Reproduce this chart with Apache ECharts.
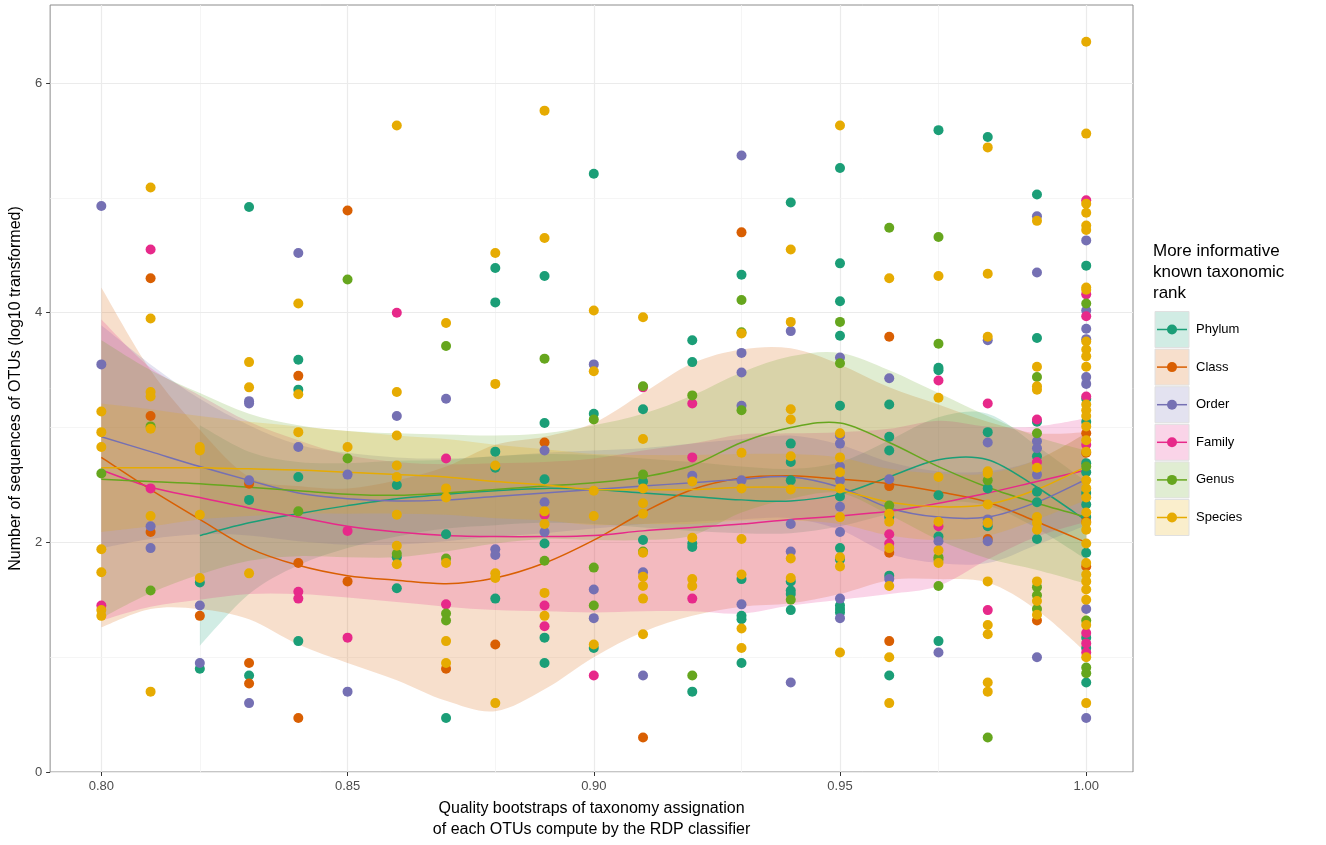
<!DOCTYPE html>
<html>
<head>
<meta charset="utf-8">
<script src="https://cdn.jsdelivr.net/npm/echarts@6/dist/echarts.min.js"></script>
<style>
html, body { margin: 0; padding: 0; background: #fff; }
#chart { width: 1326px; height: 845px; }
</style>
</head>
<body>
<div id="chart"></div>
<script>
// points: [bootstrap quality, log10 number of sequences]
const phylumPts = [
  [0.82,1.65],[0.82,0.90],
  [0.83,4.92],[0.83,2.37],[0.83,0.84],
  [0.84,3.59],[0.84,3.33],[0.84,2.57],[0.84,1.14],
  [0.86,2.50],[0.86,1.87],[0.86,1.60],
  [0.87,2.07],[0.87,0.47],
  [0.88,4.39],[0.88,4.09],[0.88,2.79],[0.88,2.65],[0.88,1.51],
  [0.89,4.32],[0.89,3.04],[0.89,2.55],[0.89,1.99],[0.89,1.17],[0.89,0.95],
  [0.90,5.21],[0.90,3.12],[0.90,1.08],
  [0.91,3.16],[0.91,2.53],[0.91,2.02],
  [0.92,3.76],[0.92,3.57],[0.92,1.99],[0.92,1.96],[0.92,0.70],
  [0.93,4.33],[0.93,1.68],[0.93,1.36],[0.93,1.33],[0.93,0.95],
  [0.94,4.96],[0.94,2.86],[0.94,2.70],[0.94,2.54],[0.94,1.66],[0.94,1.58],[0.94,1.55],[0.94,1.41],
  [0.95,5.26],[0.95,4.43],[0.95,4.10],[0.95,3.80],[0.95,3.19],[0.95,2.40],[0.95,1.95],[0.95,1.85],[0.95,1.45],[0.95,1.42],[0.95,1.39],
  [0.96,3.20],[0.96,2.92],[0.96,2.80],[0.96,2.22],[0.96,1.71],[0.96,0.84],
  [0.97,5.59],[0.97,3.52],[0.97,3.50],[0.97,2.41],[0.97,2.05],[0.97,1.14],
  [0.98,5.53],[0.98,2.96],[0.98,2.47],[0.98,2.14],
  [0.99,5.03],[0.99,3.78],[0.99,3.05],[0.99,2.75],[0.99,2.44],[0.99,2.35],[0.99,2.03],
  [1.00,4.41],[1.00,3.25],[1.00,3.05],[1.00,2.69],[1.00,2.61],[1.00,2.43],[1.00,2.33],[1.00,2.22],[1.00,1.91],[1.00,1.17],[1.00,1.08],[1.00,0.78]
];
const classPts = [
  [0.81,4.30],[0.81,3.10],[0.81,2.09],
  [0.82,1.36],
  [0.83,2.51],[0.83,0.95],[0.83,0.77],
  [0.84,3.45],[0.84,1.82],[0.84,0.47],
  [0.85,4.89],[0.85,1.66],
  [0.87,0.90],[0.88,1.11],[0.89,2.87],[0.91,0.30],[0.93,4.70],
  [0.96,3.79],[0.96,2.49],[0.96,1.91],[0.96,1.14],
  [0.98,2.03],[0.99,1.32],
  [1.00,2.95],[1.00,2.78],[1.00,2.18],[1.00,1.79]
];
const orderPts = [
  [0.80,4.93],[0.80,3.55],
  [0.81,2.14],[0.81,1.95],
  [0.82,1.45],[0.82,0.95],
  [0.83,3.23],[0.83,3.21],[0.83,2.54],[0.83,0.60],
  [0.84,4.52],[0.84,2.83],
  [0.85,2.59],[0.85,0.70],
  [0.86,3.10],[0.87,3.25],
  [0.88,1.94],[0.88,1.89],
  [0.89,2.80],[0.89,2.35],[0.89,2.09],
  [0.90,3.55],[0.90,1.59],[0.90,1.34],
  [0.91,1.74],[0.91,0.84],
  [0.92,2.58],
  [0.93,5.37],[0.93,3.65],[0.93,3.48],[0.93,3.19],[0.93,2.54],[0.93,1.46],
  [0.94,3.84],[0.94,2.16],[0.94,1.92],[0.94,0.78],
  [0.95,3.61],[0.95,2.93],[0.95,2.86],[0.95,2.66],[0.95,2.54],[0.95,2.31],[0.95,2.09],[0.95,1.51],[0.95,1.34],
  [0.96,3.43],[0.96,2.55],[0.96,1.68],
  [0.97,2.01],[0.97,1.04],
  [0.98,3.76],[0.98,2.87],[0.98,2.20],[0.98,2.17],[0.98,2.01],
  [0.99,4.84],[0.99,4.35],[0.99,2.88],[0.99,2.82],[0.99,2.59],[0.99,1.00],
  [1.00,4.63],[1.00,4.02],[1.00,3.86],[1.00,3.77],[1.00,3.44],[1.00,3.38],[1.00,1.42],[1.00,0.47]
];
const familyPts = [
  [0.80,1.45],
  [0.81,4.55],[0.81,2.47],
  [0.84,1.57],[0.84,1.51],
  [0.85,2.10],[0.85,1.17],
  [0.86,4.00],
  [0.87,2.73],[0.87,1.46],
  [0.89,2.24],[0.89,1.45],[0.89,1.27],
  [0.90,0.84],[0.91,3.35],
  [0.92,3.21],[0.92,2.74],[0.92,1.51],
  [0.96,2.07],[0.96,1.99],
  [0.97,3.41],[0.97,2.14],
  [0.98,3.21],[0.98,1.41],
  [0.99,3.07],[0.99,2.70],
  [1.00,4.98],[1.00,4.16],[1.00,3.97],[1.00,3.27],[1.00,2.85],[1.00,1.21],[1.00,1.12],[1.00,1.04]
];
const genusPts = [
  [0.80,2.60],
  [0.81,3.01],[0.81,1.58],
  [0.84,2.27],
  [0.85,4.29],[0.85,2.73],
  [0.86,1.90],
  [0.87,3.71],[0.87,1.86],[0.87,1.38],[0.87,1.32],
  [0.89,3.60],[0.89,1.84],
  [0.90,3.07],[0.90,1.78],[0.90,1.45],
  [0.91,3.36],[0.91,2.59],[0.91,1.92],
  [0.92,3.28],[0.92,0.84],
  [0.93,4.11],[0.93,3.83],[0.93,3.15],
  [0.94,1.50],
  [0.95,3.92],[0.95,3.56],
  [0.96,4.74],[0.96,2.32],
  [0.97,4.66],[0.97,3.73],[0.97,1.87],[0.97,1.85],[0.97,1.62],
  [0.98,2.54],[0.98,0.30],
  [0.99,3.44],[0.99,2.95],[0.99,1.61],[0.99,1.54],[0.99,1.42],
  [1.00,4.08],[1.00,2.66],[1.00,1.32],[1.00,0.91],[1.00,0.86]
];
const speciesPts = [
  [0.80,3.14],[0.80,2.96],[0.80,2.83],[0.80,1.94],[0.80,1.74],[0.80,1.41],[0.80,1.36],
  [0.81,5.09],[0.81,3.95],[0.81,3.31],[0.81,3.27],[0.81,2.99],[0.81,2.23],[0.81,0.70],
  [0.82,2.83],[0.82,2.80],[0.82,2.24],[0.82,1.69],
  [0.83,3.57],[0.83,3.35],[0.83,1.73],
  [0.84,4.08],[0.84,3.29],[0.84,2.96],
  [0.85,2.83],
  [0.86,5.63],[0.86,3.31],[0.86,2.93],[0.86,2.67],[0.86,2.57],[0.86,2.24],[0.86,1.97],[0.86,1.81],
  [0.87,3.91],[0.87,2.47],[0.87,2.39],[0.87,1.82],[0.87,1.14],[0.87,0.95],
  [0.88,4.52],[0.88,3.38],[0.88,2.67],[0.88,1.73],[0.88,1.69],[0.88,0.60],
  [0.89,5.76],[0.89,4.65],[0.89,2.27],[0.89,2.16],[0.89,1.56],[0.89,1.36],
  [0.90,4.02],[0.90,3.49],[0.90,2.45],[0.90,2.23],[0.90,1.11],
  [0.91,3.96],[0.91,2.90],[0.91,2.47],[0.91,2.34],[0.91,2.25],[0.91,1.91],[0.91,1.70],[0.91,1.62],[0.91,1.51],[0.91,1.20],
  [0.92,2.53],[0.92,2.04],[0.92,1.68],[0.92,1.62],
  [0.93,3.82],[0.93,2.78],[0.93,2.47],[0.93,2.03],[0.93,1.72],[0.93,1.25],[0.93,1.08],
  [0.94,4.55],[0.94,3.92],[0.94,3.16],[0.94,3.07],[0.94,2.75],[0.94,2.46],[0.94,1.86],[0.94,1.69],
  [0.95,5.63],[0.95,2.95],[0.95,2.74],[0.95,2.61],[0.95,2.47],[0.95,2.22],[0.95,1.87],[0.95,1.79],[0.95,1.04],
  [0.96,4.30],[0.96,2.25],[0.96,2.18],[0.96,1.95],[0.96,1.62],[0.96,1.00],[0.96,0.60],
  [0.97,4.32],[0.97,3.26],[0.97,2.57],[0.97,2.18],[0.97,1.93],[0.97,1.82],
  [0.98,5.44],[0.98,4.34],[0.98,3.79],[0.98,2.62],[0.98,2.60],[0.98,2.33],[0.98,2.17],[0.98,1.66],[0.98,1.28],[0.98,1.20],[0.98,0.78],[0.98,0.70],
  [0.99,4.80],[0.99,3.53],[0.99,3.36],[0.99,3.33],[0.99,2.65],[0.99,2.22],[0.99,2.17],[0.99,2.11],[0.99,1.66],[0.99,1.49],[0.99,1.37],
  [1.00,6.36],[1.00,5.56],[1.00,4.95],[1.00,4.87],[1.00,4.76],[1.00,4.72],[1.00,4.22],[1.00,4.20],[1.00,3.75],[1.00,3.68],[1.00,3.62],[1.00,3.53],
  [1.00,3.20],[1.00,3.15],[1.00,3.10],[1.00,3.01],[1.00,2.89],[1.00,2.79],[1.00,2.54],[1.00,2.47],[1.00,2.39],[1.00,2.26],[1.00,2.17],[1.00,2.11],
  [1.00,1.99],[1.00,1.82],[1.00,1.72],[1.00,1.66],[1.00,1.59],[1.00,1.50],[1.00,1.28],[1.00,1.00],[1.00,0.60]
];

// loess fits (fit, lower and upper band)
const fitX = [0.80,0.81,0.82,0.83,0.84,0.85,0.86,0.87,0.88,0.89,0.90,0.91,0.92,0.93,0.94,0.95,0.96,0.97,0.98,0.99,1.00];
const phylumX = [0.82,0.83,0.84,0.85,0.86,0.87,0.88,0.89,0.90,0.91,0.92,0.93,0.94,0.95,0.96,0.97,0.98,0.99,1.00];
const phylumFit = [2.06,2.17,2.25,2.32,2.38,2.42,2.45,2.47,2.46,2.43,2.40,2.37,2.36,2.42,2.57,2.72,2.72,2.48,2.19];
const phylumLo  = [1.10,1.55,1.80,1.95,2.05,2.12,2.15,2.17,2.16,2.13,2.10,2.08,2.08,2.14,2.25,2.35,2.32,2.12,1.85];
const phylumHi  = [3.02,2.79,2.70,2.69,2.71,2.72,2.75,2.77,2.76,2.73,2.70,2.66,2.64,2.70,2.89,3.09,3.12,2.84,2.53];
const classFit = [2.74,2.46,2.20,1.95,1.80,1.71,1.67,1.64,1.69,1.82,2.02,2.26,2.46,2.56,2.58,2.55,2.51,2.44,2.35,2.18,2.00];
const classLo  = [1.26,1.42,1.42,1.33,1.11,0.95,0.80,0.62,0.53,0.72,1.00,1.22,1.36,1.44,1.47,1.55,1.67,1.68,1.65,1.41,1.04];
const classHi  = [4.22,3.50,2.98,2.57,2.49,2.47,2.54,2.66,2.85,2.92,3.04,3.30,3.56,3.68,3.69,3.55,3.35,3.20,3.05,2.95,2.96];
const orderFit = [2.92,2.79,2.66,2.54,2.43,2.38,2.36,2.37,2.40,2.43,2.46,2.49,2.52,2.55,2.57,2.48,2.30,2.22,2.22,2.35,2.55];
const orderLo  = [1.95,2.03,2.07,2.06,2.01,1.98,1.98,2.01,2.05,2.08,2.12,2.16,2.18,2.20,2.21,2.11,1.90,1.82,1.82,1.98,2.15];
const orderHi  = [3.89,3.55,3.25,3.02,2.85,2.78,2.74,2.73,2.75,2.78,2.80,2.82,2.86,2.90,2.93,2.85,2.70,2.62,2.62,2.72,2.95];
const familyFit = [2.63,2.48,2.39,2.30,2.22,2.14,2.09,2.06,2.05,2.05,2.06,2.10,2.13,2.16,2.20,2.23,2.27,2.34,2.43,2.53,2.63];
const familyLo  = [1.32,1.44,1.50,1.55,1.55,1.52,1.48,1.44,1.41,1.40,1.39,1.40,1.40,1.38,1.45,1.50,1.55,1.62,1.85,2.05,2.18];
const familyHi  = [3.94,3.52,3.28,3.05,2.89,2.76,2.70,2.68,2.69,2.70,2.73,2.80,2.86,2.94,2.95,2.96,2.99,3.06,3.01,3.01,3.08];
const genusFit = [2.55,2.53,2.51,2.48,2.45,2.42,2.41,2.43,2.46,2.49,2.52,2.57,2.67,2.87,3.00,3.04,2.87,2.66,2.48,2.34,2.22];
const genusLo  = [1.34,1.56,1.72,1.84,1.88,1.87,1.87,1.92,1.99,2.03,2.02,2.02,2.06,2.26,2.38,2.43,2.24,2.02,1.86,1.76,1.64];
const genusHi  = [3.76,3.50,3.30,3.12,3.02,2.97,2.95,2.94,2.93,2.95,3.02,3.12,3.28,3.48,3.62,3.65,3.50,3.30,3.10,2.92,2.80];
const speciesFit = [2.65,2.65,2.65,2.64,2.63,2.61,2.59,2.57,2.53,2.50,2.46,2.46,2.46,2.48,2.48,2.45,2.35,2.31,2.33,2.46,2.66];
const speciesLo  = [2.09,2.14,2.20,2.23,2.25,2.25,2.25,2.24,2.21,2.19,2.15,2.16,2.16,2.19,2.19,2.16,2.06,2.02,2.06,2.20,2.37];
const speciesHi  = [3.21,3.16,3.10,3.05,3.01,2.97,2.93,2.90,2.85,2.81,2.77,2.76,2.76,2.77,2.77,2.74,2.64,2.60,2.60,2.72,2.95];

const xTicks = [0.80, 0.85, 0.90, 0.95, 1.00];
const xMinor = [0.825, 0.875, 0.925, 0.975];
const yTicks = [0, 2, 4, 6];
const yMinor = [1, 3, 5];

const ranks = [
  { name: 'Phylum',  color: '#1B9E77', pts: phylumPts,  x: phylumX, fit: phylumFit,  lo: phylumLo,  hi: phylumHi },
  { name: 'Class',   color: '#D95F02', pts: classPts,   x: fitX,    fit: classFit,   lo: classLo,   hi: classHi },
  { name: 'Order',   color: '#7570B3', pts: orderPts,   x: fitX,    fit: orderFit,   lo: orderLo,   hi: orderHi },
  { name: 'Family',  color: '#E7298A', pts: familyPts,  x: fitX,    fit: familyFit,  lo: familyLo,  hi: familyHi },
  { name: 'Genus',   color: '#66A61E', pts: genusPts,   x: fitX,    fit: genusFit,   lo: genusLo,   hi: genusHi },
  { name: 'Species', color: '#E6AB02', pts: speciesPts, x: fitX,    fit: speciesFit, lo: speciesLo, hi: speciesHi }
];

function alpha(hex, a) {
  const n = parseInt(hex.slice(1), 16);
  return 'rgba(' + (n >> 16) + ',' + ((n >> 8) & 255) + ',' + (n & 255) + ',' + a + ')';
}

// catmull-rom style bezier through pixel points (continues an open path)
function curveThrough(p, start) {
  let d = start ? 'M' + p[0][0] + ',' + p[0][1] : 'L' + p[0][0] + ',' + p[0][1];
  for (let i = 0; i < p.length - 1; i++) {
    const p0 = p[i - 1] || p[i], p1 = p[i], p2 = p[i + 1], p3 = p[i + 2] || p[i + 1];
    const c1x = p1[0] + (p2[0] - p0[0]) / 6, c1y = p1[1] + (p2[1] - p0[1]) / 6;
    const c2x = p2[0] - (p3[0] - p1[0]) / 6, c2y = p2[1] - (p3[1] - p1[1]) / 6;
    d += 'C' + c1x + ',' + c1y + ' ' + c2x + ',' + c2y + ' ' + p2[0] + ',' + p2[1];
  }
  return d;
}

const FONT = '"Liberation Sans", Arial, sans-serif';
const chart = echarts.init(document.getElementById('chart'));

const series = [];
// grid lines (major + minor like theme_bw)
series.push({
  type: 'line', data: [], silent: true,
  markLine: {
    silent: true, symbol: 'none', z: 0, animation: false,
    label: { show: false },
    data: [].concat(
      xTicks.map(v => ({ xAxis: v, lineStyle: { color: '#ebebeb', width: 1.2, type: 'solid' } })),
      xMinor.map(v => ({ xAxis: v, lineStyle: { color: '#f3f3f3', width: 0.8, type: 'solid' } })),
      yTicks.map(v => ({ yAxis: v, lineStyle: { color: '#ebebeb', width: 1.2, type: 'solid' } })),
      yMinor.map(v => ({ yAxis: v, lineStyle: { color: '#f3f3f3', width: 0.8, type: 'solid' } }))
    )
  }
});
// confidence ribbons, placed on the axes through api.coord
ranks.forEach(r => {
  series.push({
    type: 'custom', silent: true, z: 2, clip: true,
    data: [0],
    renderItem: (params, api) => {
      const up = r.x.map((x, j) => api.coord([x, r.hi[j]]));
      const dn = r.x.map((x, j) => api.coord([x, r.lo[j]])).reverse();
      return {
        type: 'path',
        shape: { pathData: curveThrough(up, true) + curveThrough(dn, false) + 'Z' },
        style: { fill: alpha(r.color, 0.2), stroke: null }
      };
    }
  });
});
// fitted lines
ranks.forEach(r => {
  series.push({
    type: 'custom', silent: true, z: 3, clip: true,
    data: [0],
    renderItem: (params, api) => {
      const pts = r.x.map((x, j) => api.coord([x, r.fit[j]]));
      return {
        type: 'path',
        shape: { pathData: curveThrough(pts, true) },
        style: { fill: null, stroke: r.color, lineWidth: 1.5 }
      };
    }
  });
});
// points
ranks.forEach(r => {
  series.push({
    type: 'scatter', name: r.name, symbolSize: 10, z: 4,
    itemStyle: { color: r.color, opacity: 1 },
    data: r.pts
  });
});

// legend drawn as ggplot-style keys
const legendGraphics = [{
  type: 'text', left: 1153, top: 241,
  style: { text: 'More informative\nknown taxonomic\nrank', font: '17px ' + FONT, fill: '#000', lineHeight: 21 }
}];
ranks.forEach((r, i) => {
  const cy = 329.5 + i * 37.6;
  legendGraphics.push({
    type: 'rect', shape: { x: 1155, y: cy - 18, width: 34, height: 36 },
    style: { fill: alpha(r.color, 0.2), stroke: '#e0e0e0', lineWidth: 1 }
  });
  legendGraphics.push({
    type: 'line', shape: { x1: 1157, y1: cy, x2: 1187, y2: cy },
    style: { stroke: r.color, lineWidth: 1.5 }
  });
  legendGraphics.push({
    type: 'circle', shape: { cx: 1172, cy: cy, r: 5 },
    style: { fill: r.color }
  });
  legendGraphics.push({
    type: 'text', x: 1196, y: cy,
    style: { text: r.name, font: '13px ' + FONT, fill: '#000', verticalAlign: 'middle' }
  });
});

chart.setOption({
  animation: false,
  backgroundColor: '#fff',
  textStyle: { fontFamily: FONT },
  grid: {
    left: 50, right: 193, top: 5, bottom: 73,
    show: true, borderColor: '#8c8c8c', borderWidth: 1, backgroundColor: '#fff'
  },
  xAxis: {
    type: 'value', min: 0.7896, max: 1.0095,
    name: 'Quality bootstraps of taxonomy assignation\nof each OTUs compute by the RDP classifier',
    nameLocation: 'middle', nameGap: 25,
    nameTextStyle: { fontSize: 16, color: '#000', lineHeight: 21, verticalAlign: 'top' },
    axisLine: { show: false },
    splitLine: { show: false },
    axisTick: { show: true, customValues: xTicks, length: 4, lineStyle: { color: '#333' } },
    axisLabel: { customValues: xTicks, formatter: v => v.toFixed(2), fontSize: 13, color: '#4d4d4d', margin: 8 }
  },
  yAxis: {
    type: 'value', min: 0, max: 6.68,
    name: 'Number of sequences of OTUs (log10 transformed)',
    nameLocation: 'middle', nameGap: 24,
    nameTextStyle: { fontSize: 16, color: '#000' },
    axisLine: { show: false },
    splitLine: { show: false },
    axisTick: { show: true, customValues: yTicks, length: 4, lineStyle: { color: '#333' } },
    axisLabel: { customValues: yTicks, fontSize: 13, color: '#4d4d4d', margin: 8 }
  },
  graphic: legendGraphics,
  series: series
});
</script>
</body>
</html>
